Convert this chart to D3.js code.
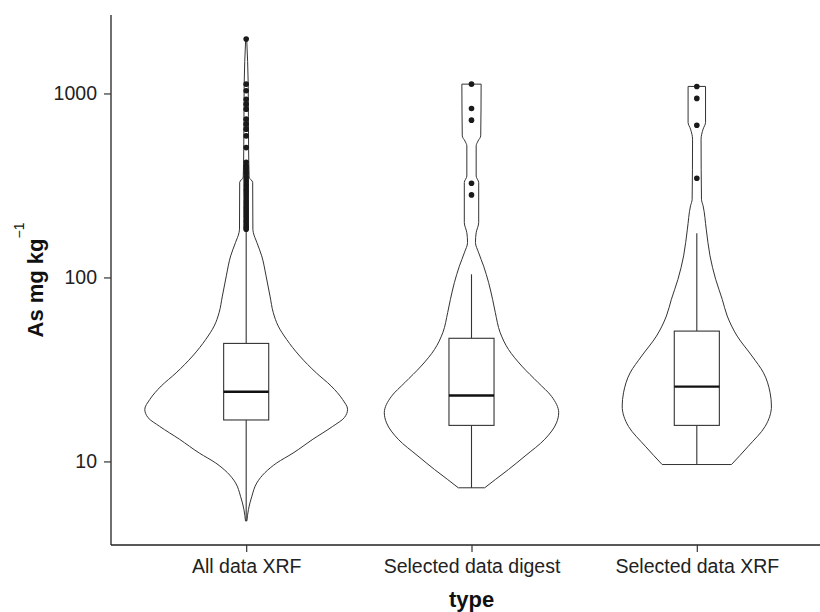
<!DOCTYPE html>
<html>
<head>
<meta charset="utf-8">
<script src="https://cdn.jsdelivr.net/npm/d3@7"></script>
<style>
  body { margin: 0; background: #fff; }
  svg { display: block; font-family: "Liberation Sans", Arial, Helvetica, sans-serif; }
</style>
</head>
<body>
<svg id="chart" width="820" height="612"></svg>
<script>
// ---- data -------------------------------------------------------------
const categories = ["All data XRF", "Selected data digest", "Selected data XRF"];

// Violin outlines: As level (mg/kg) and relative half-width of the density
const allXrfLevels = [4.75, 5.47, 6.47, 7.65, 8.7, 9.8, 11.1, 13.2, 15.5, 17.3, 19.2, 21.7, 25.7, 30.3,
  37.4, 46.1, 54.4, 64.4, 79.2, 102, 131, 155, 175, 183, 329, 351, 498, 1124, 1975];
const allXrfWidths = [0.007, 0.022, 0.056, 0.105, 0.186, 0.30, 0.462, 0.658, 0.853, 0.968, 1.0, 0.951, 0.838, 0.691,
  0.528, 0.398, 0.316, 0.267, 0.235, 0.196, 0.153, 0.105, 0.071, 0.066, 0.064, 0.029, 0.024, 0.02, 0.005];

const digestLevels = [7.19, 7.97, 9.04, 10.7, 13.2, 16.2, 18.4, 22.6, 26.8, 33.0, 40.6, 50.1, 64.4, 76,
  93.7, 115, 136, 155, 175, 199, 328, 356, 519, 552, 588, 1124];
const digestWidths = [0.13, 0.235, 0.365, 0.528, 0.723, 0.838, 0.86, 0.789, 0.658, 0.496, 0.365, 0.283, 0.235, 0.208,
  0.169, 0.12, 0.071, 0.039, 0.046, 0.071, 0.071, 0.046, 0.046, 0.065, 0.091, 0.095];

const selXrfLevels = [9.62, 12.1, 15.5, 20.0, 23.6, 30.3, 37.4, 48.0, 61.7, 76, 97.7, 131, 183, 245, 266,
  564, 640, 696, 1092];
const selXrfWidths = [0.342, 0.508, 0.674, 0.736, 0.723, 0.658, 0.544, 0.398, 0.30, 0.251, 0.186, 0.13, 0.093, 0.062, 0.046,
  0.042, 0.062, 0.086, 0.086];

// Box-and-whisker summaries, one entry per category
const boxQ1 = [16.8, 15.7, 15.7];
const boxMedian = [23.9, 22.8, 25.5];
const boxQ3 = [43.8, 46.7, 51.1];
const whiskerLow = [4.75, 7.19, 9.62];
const whiskerHigh = [180, 104, 174];

// Outlying samples
const allXrfOutliers = [1975, 1124, 1034, 931, 875, 822, 725, 681, 640, 588, 508,
  423, 405, 392, 378, 366, 352, 340, 330, 320, 311, 302, 294, 286, 278, 270, 262, 255,
  248, 241, 235, 229, 223, 217, 212, 206, 201, 196, 191, 187, 183];
const digestOutliers = [1124, 829, 716, 325, 281];
const selXrfOutliers = [1092, 940, 672, 346];

const yTicks = [10, 100, 1000];

// ---- layout -----------------------------------------------------------
const panel = { left: 111, right: 832, top: 15, bottom: 545 };
const svg = d3.select("#chart");

const violins = [
  { levels: allXrfLevels, widths: allXrfWidths, outliers: allXrfOutliers },
  { levels: digestLevels, widths: digestWidths, outliers: digestOutliers },
  { levels: selXrfLevels, widths: selXrfWidths, outliers: selXrfOutliers }
];

const x = d3.scalePoint().domain(categories).range([panel.left, panel.right]).padding(0.6);

// log scale with a 5% expansion of the data range
const allValues = violins.flatMap(v => v.levels.concat(v.outliers));
const lo = Math.log10(d3.min(allValues)), hi = Math.log10(d3.max(allValues));
const pad = (hi - lo) * 0.05;
const y = d3.scaleLog()
  .domain([Math.pow(10, lo - pad), Math.pow(10, hi + pad)])
  .range([panel.bottom, panel.top]);

const halfWidth = d3.scaleLinear().domain([0, 1]).range([0, x.step() * 0.45]);
const boxHalf = x.step() * 0.1;

const plot = svg.append("g");

categories.forEach((cat, i) => {
  const cx = x(cat);
  const v = violins[i];
  const pts = v.levels.map((lv, k) => ({ v: lv, w: v.widths[k] }));

  const area = d3.area()
    .y(d => y(d.v))
    .x0(d => cx - halfWidth(d.w))
    .x1(d => cx + halfWidth(d.w))
    .curve(d3.curveMonotoneY);

  plot.append("path")
    .attr("d", area(pts))
    .attr("fill", "#fff")
    .attr("stroke", "#333")
    .attr("stroke-width", 1);

  const g = plot.append("g").attr("stroke", "#333").attr("stroke-width", 1.1);
  // whiskers
  g.append("line").attr("x1", cx).attr("x2", cx)
    .attr("y1", y(boxQ3[i])).attr("y2", y(whiskerHigh[i]));
  g.append("line").attr("x1", cx).attr("x2", cx)
    .attr("y1", y(boxQ1[i])).attr("y2", y(whiskerLow[i]));
  // box
  g.append("rect")
    .attr("x", cx - boxHalf).attr("width", boxHalf * 2)
    .attr("y", y(boxQ3[i])).attr("height", y(boxQ1[i]) - y(boxQ3[i]))
    .attr("fill", "#fff");
  // median
  g.append("line")
    .attr("x1", cx - boxHalf).attr("x2", cx + boxHalf)
    .attr("y1", y(boxMedian[i])).attr("y2", y(boxMedian[i]))
    .attr("stroke", "#111").attr("stroke-width", 2.4);

  plot.append("g").selectAll("circle").data(v.outliers).join("circle")
    .attr("cx", cx).attr("cy", d => y(d)).attr("r", 2.8)
    .attr("fill", "#1a1a1a");
});

// ---- axes -------------------------------------------------------------
const yAxis = svg.append("g")
  .attr("transform", `translate(${panel.left},0)`)
  .call(d3.axisLeft(y).tickValues(yTicks).tickFormat(d3.format("d")).tickSize(7).tickPadding(7).tickSizeOuter(0));
yAxis.select(".domain").attr("d", `M0,${panel.top}V${panel.bottom}`);

const xAxis = svg.append("g")
  .attr("transform", `translate(0,${panel.bottom})`)
  .call(d3.axisBottom(x).tickSize(7).tickPadding(7).tickSizeOuter(0));
xAxis.select(".domain").attr("d", `M${panel.left},0H${panel.right}`);

[yAxis, xAxis].forEach(a => {
  a.select(".domain").attr("stroke", "#222").attr("stroke-width", 1.3);
  a.selectAll(".tick line").attr("stroke", "#333").attr("stroke-width", 1.2);
  a.selectAll(".tick text").attr("fill", "#222")
    .style("font-size", "19.5px").style("font-family", "'Liberation Sans', Arial, sans-serif");
});

// axis titles
svg.append("text")
  .attr("x", (panel.left + panel.right) / 2).attr("y", 607)
  .attr("text-anchor", "middle")
  .style("font-size", "22px").style("font-weight", "bold").attr("fill", "#111")
  .text("type");

const yTitle = svg.append("text")
  .attr("transform", `translate(43,${(panel.top + panel.bottom) / 2}) rotate(-90)`)
  .attr("text-anchor", "middle")
  .style("font-size", "22px").style("font-weight", "bold").attr("fill", "#111");
yTitle.append("tspan").text("As mg kg");
yTitle.append("tspan").attr("dy", -19).style("font-size", "14px").style("font-weight", "normal").text("\u22121");
</script>
</body>
</html>
